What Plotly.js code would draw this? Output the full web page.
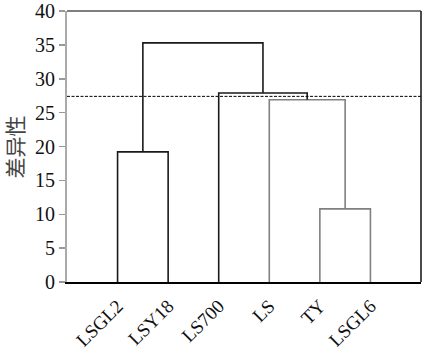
<!DOCTYPE html>
<html><head><meta charset="utf-8">
<script src="https://cdn.plot.ly/plotly-3.0.1.min.js"></script>
<style>html,body{margin:0;padding:0;background:#fff}#chart{width:422px;height:351px}</style>
</head><body><div id="chart"></div>
<script>
// Leaves (in dendrogram order)
const leaves = ['LSGL2', 'LSY18', 'LS700', 'LS', 'TY', 'LSGL6'];
// Linkage: cluster ids 0..5 are leaves, 6.. are merges (in order)
const mergeLeft   = [0, 4, 3, 2, 6];
const mergeRight  = [1, 5, 7, 8, 9];
const mergeHeight = [19.2, 10.8, 26.9, 27.9, 35.3];
const mergeColor  = ['#1a1a1a', '#808080', '#808080', '#1a1a1a', '#1a1a1a'];
const cutHeight = 27.4;
const yTicks = [0, 5, 10, 15, 20, 25, 30, 35, 40];
const yTitle = '差异性';

const pos = leaves.map((_, i) => i + 1);
const hts = leaves.map(() => 0);
const traces = [];
mergeHeight.forEach((h, k) => {
  const a = mergeLeft[k], b = mergeRight[k];
  traces.push({
    type: 'scatter', mode: 'lines',
    x: [pos[a], pos[a], pos[b], pos[b]],
    y: [hts[a], h, h, hts[b]],
    line: {color: mergeColor[k], width: 1.6},
    hoverinfo: 'skip', showlegend: false
  });
  pos.push((pos[a] + pos[b]) / 2);
  hts.push(h);
});

const serif = 'Liberation Serif, Times New Roman, serif';
const layout = {
  width: 422, height: 351,
  margin: {l: 67, r: 1, t: 11, b: 69},
  paper_bgcolor: '#fff', plot_bgcolor: '#fff',
  showlegend: false,
  xaxis: {
    range: [0, 7], tickvals: leaves.map((_, i) => i + 1), ticktext: leaves,
    tickangle: -45, ticks: '', showgrid: false, zeroline: false,
    showline: true, linecolor: '#000', linewidth: 1.5,
    ticklabelstandoff: 4, ticklabeloverflow: 'allow',
    tickfont: {family: serif, size: 19, color: '#111'}
  },
  yaxis: {
    range: [0, 40], tickvals: yTicks, ticks: 'outside', ticklen: 6,
    tickcolor: '#999', tickwidth: 1.5, showgrid: false, zeroline: false,
    showline: true, linecolor: '#aaa', linewidth: 2,
    ticklabeloverflow: 'allow',
    tickfont: {family: serif, size: 20, color: '#111'}
  },
  annotations: [
    {text: yTitle, xref: 'paper', yref: 'paper', x: -0.15, y: 0.5,
     xanchor: 'center', yanchor: 'middle', textangle: -90, showarrow: false,
     font: {family: 'Noto Sans CJK SC, sans-serif', size: 21, color: '#444'}}
  ],
  shapes: [
    {type: 'line', xref: 'paper', yref: 'y', x0: 0, x1: 1, y0: cutHeight, y1: cutHeight,
     line: {color: '#000', width: 1, dash: '3px,1.5px'}},
    {type: 'line', xref: 'paper', yref: 'paper', x0: 0, x1: 1, y0: 1, y1: 1,
     line: {color: '#555', width: 1.5}},
    {type: 'line', xref: 'paper', yref: 'paper', x0: 1, x1: 1, y0: 0, y1: 1,
     line: {color: '#111', width: 1.5}}
  ]
};
Plotly.newPlot('chart', traces, layout, {displayModeBar: false, staticPlot: true});
</script></body></html>
